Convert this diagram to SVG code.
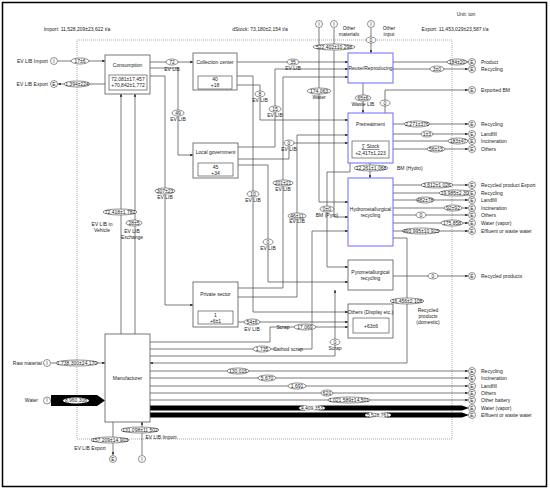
<svg xmlns="http://www.w3.org/2000/svg" width="550" height="491" viewBox="0 0 550 491">
<defs>
<marker id="ah" viewBox="0 0 6 6" refX="6" refY="3" markerWidth="4" markerHeight="4" orient="auto"><path d="M0,0L6,3L0,6z" fill="#222"/></marker>
<style>
text{font-family:"Liberation Sans",Arial,sans-serif;font-size:5px;fill:#222;text-anchor:middle}
.l{text-anchor:start}
.r{text-anchor:end}
.box{fill:#fff;stroke:#555;stroke-width:0.8}
.bb{fill:#fff;stroke:#6b6bff;stroke-width:1}
.in{fill:#fff;stroke:#555;stroke-width:0.7}
.ln{fill:none;stroke:#444;stroke-width:0.7}
.ar{marker-end:url(#ah)}
.lb{fill:#fff;stroke:#444;stroke-width:0.6}
.c{fill:#fff;stroke:#444;stroke-width:0.6}
</style>
</defs>
<rect x="2.5" y="2.5" width="544" height="484" fill="#fff" stroke="#000" stroke-width="1.5"/>
<rect x="77" y="40" width="375" height="399" fill="none" stroke="#888" stroke-width="0.7" stroke-dasharray="1,1"/>
<text x="77" y="31">Import: 11,528,209±23,622 t/a</text>
<text x="260" y="31">dStock: 73,180±2,154 t/a</text>
<text x="466" y="16">Unit: ton</text>
<text x="455" y="31">Export: 11,453,029±23,587 t/a</text>

<g id="connectors">
<path class="ln ar" d="M58,61H105"/>
<path class="ln ar" d="M105,84H58"/>
<path class="ln ar" d="M51,363H105"/>
<polygon points="51,395 97,395 105,400.5 97,406 51,406" fill="#000"/>
<path class="ln ar" d="M121,334V94"/>
<path class="ln ar" d="M135,334V94"/>
<path class="ln ar" d="M142,455V422"/>
<path class="ln ar" d="M113,422V455"/>
<path class="ln ar" d="M150,62H193"/>
<path class="ln ar" d="M150,68H178V155H193"/>
<path class="ln ar" d="M150,76H165V305H193"/>
<path class="ln ar" d="M237,62H348"/>
<path class="ln ar" d="M238,147H275V69H348"/>
<path class="ln ar" d="M238,288H283V77H348"/>
<path class="ln ar" d="M237,85H260V120H348"/>
<path class="ln ar" d="M238,159H289V143H348"/>
<path class="ln ar" d="M238,297H297V135H348"/>
<path class="ln ar" d="M237,76H253V312H348"/>
<path class="ln ar" d="M238,165H268V282H348"/>
<path class="ln ar" d="M238,322H348"/>
<path class="ln ar" d="M319,28V202H348"/>
<path class="ln ar" d="M334,28V217H348"/>
<path class="ln ar" d="M371,28V53"/>
<path class="ln ar" d="M363,83V113"/>
<path class="ln ar" d="M385,113V90H468"/>
<path class="ln ar" d="M393,62H468"/>
<path class="ln ar" d="M393,69H468"/>
<path class="ln ar" d="M393,124H468"/>
<path class="ln ar" d="M393,134H468"/>
<path class="ln ar" d="M393,141H468"/>
<path class="ln ar" d="M393,149H468"/>
<path class="ln ar" d="M370,163V178"/>
<path class="ln ar" d="M350,163V172H327V267H348"/>
<path class="ln ar" d="M393,185H468"/>
<path class="ln ar" d="M393,193H468"/>
<path class="ln ar" d="M393,200H468"/>
<path class="ln ar" d="M393,208H468"/>
<path class="ln ar" d="M393,215H468"/>
<path class="ln ar" d="M393,223H468"/>
<path class="ln ar" d="M393,231H468"/>
<path class="ln ar" d="M393,238H407V363H150"/>
<path class="ln ar" d="M393,276H468"/>
<path class="ln ar" d="M150,349H312V231H348"/>
<path class="ln ar" d="M150,342H270V327H348"/>
<path class="ln ar" d="M150,356H335V290"/>
<path class="ln ar" d="M150,371H468"/>
<path class="ln ar" d="M150,378H468"/>
<path class="ln ar" d="M150,386H468"/>
<path class="ln ar" d="M150,393H468"/>
<path class="ln ar" d="M150,400H468" stroke-width="1.4"/>
<polygon points="150,405.5 462,405.5 469,408 462,410.5 150,410.5" fill="#000"/>
<polygon points="150,412.5 462,412.5 469,415 462,417.5 150,417.5" fill="#000"/>
</g>

<g id="labels">
<ellipse class="lb" cx="80" cy="61" rx="9" ry="3"/><text x="80" y="62.8">17±6</text>
<ellipse class="lb" cx="77" cy="84" rx="13" ry="3"/><text x="77" y="85.8">1,394±224</text>
<ellipse class="lb" cx="77" cy="363" rx="21" ry="3"/><text x="77" y="364.8">1,738,300±24,170</text>
<ellipse fill="#fff" cx="76" cy="400.5" rx="13" ry="3"/><text x="76" y="402.3">8,960,308</text>
<ellipse class="lb" cx="140" cy="430" rx="19" ry="3"/><text x="140" y="431.8">131,098±11,502</text>
<ellipse class="lb" cx="110" cy="440" rx="19" ry="3"/><text x="110" y="441.8">157,209±14,903</text>
<text x="161" y="439">EV LIB Import</text>
<text x="90" y="450">EV LIB Export</text>
<ellipse class="lb" cx="120" cy="212" rx="17" ry="3"/><text x="120" y="213.8">72,418±1,782</text>
<text x="102" y="226">EV LIB in</text><text x="102" y="232">Vehicle</text>
<ellipse class="lb" cx="134" cy="223" rx="8" ry="3"/><text x="134" y="224.8">28±5</text>
<text x="132" y="233">EV LIB</text><text x="132" y="239">Exchange</text>
<ellipse class="lb" cx="172" cy="62" rx="6" ry="3"/><text x="172" y="63.8">72</text>
<text x="172" y="71">EV LIB</text>
<ellipse class="lb" cx="178" cy="113" rx="6" ry="3"/><text x="178" y="114.8">49</text>
<text x="178" y="121">EV LIB</text>
<ellipse class="lb" cx="165" cy="191" rx="10" ry="3"/><text x="165" y="192.8">307±23</text>
<text x="165" y="199">EV LIB</text>
<ellipse class="lb" cx="293" cy="62" rx="6" ry="3"/><text x="293" y="63.8">35</text>
<text x="293" y="70">EV LIB</text>
<ellipse class="lb" cx="260" cy="94" rx="5" ry="3"/><text x="260" y="95.8">8</text>
<text x="260" y="102">EV LIB</text>
<ellipse class="lb" cx="275" cy="109" rx="6" ry="3"/><text x="275" y="110.8">15</text>
<text x="275" y="117">EV LIB</text>
<ellipse class="lb" cx="289" cy="143" rx="5" ry="3"/><text x="289" y="144.8">0</text>
<text x="289" y="151">EV LIB</text>
<ellipse class="lb" cx="253" cy="194" rx="6" ry="3"/><text x="253" y="195.8">10</text>
<text x="253" y="202">EV LIB</text>
<ellipse class="lb" cx="268" cy="242" rx="5" ry="3"/><text x="268" y="243.8">0</text>
<text x="268" y="250">EV LIB</text>
<ellipse class="lb" cx="283" cy="183" rx="10" ry="3"/><text x="283" y="184.8">201±21</text>
<text x="283" y="191">EV LIB</text>
<ellipse class="lb" cx="297" cy="216" rx="9" ry="3"/><text x="297" y="217.8">46±11</text>
<text x="297" y="223">EV LIB</text>
<ellipse class="lb" cx="252" cy="322" rx="8" ry="3"/><text x="252" y="323.8">54±6</text>
<text x="252" y="331">EV LIB</text>
<ellipse class="lb" cx="327" cy="209" rx="7" ry="3"/><text x="327" y="210.8">0±0</text>
<text x="327" y="217">BM (Pyro)</text>
<ellipse class="lb" cx="305" cy="327" rx="11" ry="3"/><text x="305" y="328.8">17,069</text>
<text x="283" y="329">Scrap</text>
<ellipse class="lb" cx="262" cy="349" rx="9" ry="3"/><text x="262" y="350.8">1,735</text>
<rect x="277" y="346" width="23" height="6" fill="#fff"/><text x="288" y="351">Cathod scrap</text>
<ellipse class="lb" cx="335" cy="342" rx="5" ry="3"/><text x="335" y="343.8">0</text>
<text x="335" y="350">Scrap</text>
<ellipse class="lb" cx="319" cy="91" rx="12" ry="3"/><text x="319" y="92.8">174,063</text>
<text x="319" y="99">Water</text>
<ellipse class="lb" cx="334" cy="47" rx="21" ry="3"/><text x="334" y="48.8">522,402±10,298</text>
<text x="349" y="30">Other</text><text x="349" y="36">materials</text>
<ellipse class="lb" cx="371" cy="40" rx="5" ry="3"/><text x="371" y="41.8">0</text>
<text x="389" y="30">Other</text><text x="389" y="36">input</text>
<ellipse class="lb" cx="363" cy="98" rx="8" ry="3"/><text x="363" y="99.8">65±6</text>
<text x="363" y="106">Waste LIB</text>
<ellipse class="lb" cx="385" cy="103" rx="5" ry="3"/><text x="385" y="104.8">0</text>
<ellipse class="lb" cx="457" cy="62" rx="10" ry="3"/><text x="457" y="63.8">184±20</text>
<ellipse class="lb" cx="437" cy="69" rx="7" ry="3"/><text x="437" y="70.8">3±0</text>
<ellipse class="lb" cx="417" cy="124" rx="13" ry="3"/><text x="417" y="125.8">2,271±376</text>
<ellipse class="lb" cx="427" cy="134" rx="6" ry="3"/><text x="427" y="135.8">1±3</text>
<ellipse class="lb" cx="458" cy="141" rx="10" ry="3"/><text x="458" y="142.8">183±47</text>
<ellipse class="lb" cx="436" cy="149" rx="9" ry="3"/><text x="436" y="150.8">56±15</text>
<ellipse class="lb" cx="371" cy="168" rx="17" ry="3"/><text x="371" y="169.8">12,261±1,068</text>
<text class="l" x="397" y="170">BM (Hydro)</text>
<ellipse class="lb" cx="437" cy="185" rx="16" ry="3"/><text x="437" y="186.8">3,612±1,026</text>
<ellipse class="lb" cx="456" cy="193" rx="17" ry="3"/><text x="456" y="194.8">19,985±2,308</text>
<ellipse class="lb" cx="425" cy="200" rx="9" ry="3"/><text x="425" y="201.8">482±78</text>
<ellipse class="lb" cx="453" cy="208" rx="9" ry="3"/><text x="453" y="209.8">92±92</text>
<ellipse class="lb" cx="421" cy="215" rx="5" ry="3"/><text x="421" y="216.8">0</text>
<ellipse class="lb" cx="452" cy="223" rx="11" ry="3"/><text x="452" y="224.8">175,858</text>
<ellipse class="lb" cx="421" cy="231" rx="19" ry="3"/><text x="421" y="232.8">493,995±10,915</text>
<ellipse class="lb" cx="433" cy="276" rx="5" ry="3"/><text x="433" y="277.8">0</text>
<ellipse class="lb" cx="407" cy="301" rx="17" ry="3"/><text x="407" y="302.8">16,456±2,108</text>
<text x="428" y="312">Recycled</text><text x="428" y="318">products</text><text x="428" y="324">(domestic)</text>
<ellipse class="lb" cx="238" cy="371" rx="11" ry="3"/><text x="238" y="372.8">130,016</text>
<ellipse class="lb" cx="267" cy="378" rx="9" ry="3"/><text x="267" y="379.8">5,670</text>
<ellipse class="lb" cx="297" cy="386" rx="9" ry="3"/><text x="297" y="387.8">1,691</text>
<ellipse class="lb" cx="327" cy="393" rx="6" ry="3"/><text x="327" y="394.8">620</text>
<ellipse class="lb" cx="349" cy="400" rx="21" ry="3"/><text x="349" y="401.8">1,021,589±14,501</text>
<ellipse fill="#fff" cx="312" cy="408" rx="13" ry="3"/><text x="312" y="409.8">4,409,353</text>
<ellipse fill="#fff" cx="378" cy="415" rx="13" ry="3"/><text x="378" y="416.8">5,528,761</text>
</g>

<g id="io">
<text class="r" x="48" y="63">EV LIB Import</text>
<circle class="c" cx="54" cy="61" r="3.5"/><text x="54" y="62.8">I</text>
<text class="r" x="48" y="86">EV LIB Export</text>
<circle class="c" cx="54" cy="84" r="3.5"/><text x="54" y="85.8">E</text>
<text class="r" x="42" y="365">Raw material</text>
<circle class="c" cx="47" cy="363" r="3.5"/><text x="47" y="364.8">I</text>
<text class="r" x="38" y="402">Water</text>
<circle class="c" cx="47" cy="400.5" r="3.5"/><text x="47" y="402.3">I</text>
<circle class="c" cx="142" cy="459" r="3.5"/><text x="142" y="460.8">I</text>
<circle class="c" cx="113" cy="459" r="3.5"/><text x="113" y="460.8">E</text>
<circle class="c" cx="319" cy="24" r="3.5"/><text x="319" y="25.8">I</text>
<circle class="c" cx="334" cy="24" r="3.5"/><text x="334" y="25.8">I</text>
<circle class="c" cx="371" cy="24" r="3.5"/><text x="371" y="25.8">I</text>
<circle class="c" cx="472" cy="62" r="3.5"/><text x="472" y="63.8">E</text><text class="l" x="481" y="63.8">Product</text>
<circle class="c" cx="472" cy="69" r="3.5"/><text x="472" y="70.8">E</text><text class="l" x="481" y="70.8">Recycling</text>
<circle class="c" cx="472" cy="90" r="3.5"/><text x="472" y="91.8">E</text><text class="l" x="481" y="91.8">Exported BM</text>
<circle class="c" cx="472" cy="124" r="3.5"/><text x="472" y="125.8">E</text><text class="l" x="481" y="125.8">Recycling</text>
<circle class="c" cx="472" cy="134" r="3.5"/><text x="472" y="135.8">E</text><text class="l" x="481" y="135.8">Landfill</text>
<circle class="c" cx="472" cy="141" r="3.5"/><text x="472" y="142.8">E</text><text class="l" x="481" y="142.8">Incineration</text>
<circle class="c" cx="472" cy="149" r="3.5"/><text x="472" y="150.8">E</text><text class="l" x="481" y="150.8">Others</text>
<circle class="c" cx="472" cy="185" r="3.5"/><text x="472" y="186.8">E</text><text class="l" x="481" y="186.8">Recycled product Export</text>
<circle class="c" cx="472" cy="193" r="3.5"/><text x="472" y="194.8">E</text><text class="l" x="481" y="194.8">Recycling</text>
<circle class="c" cx="472" cy="200" r="3.5"/><text x="472" y="201.8">E</text><text class="l" x="481" y="201.8">Landfill</text>
<circle class="c" cx="472" cy="208" r="3.5"/><text x="472" y="209.8">E</text><text class="l" x="481" y="209.8">Incineration</text>
<circle class="c" cx="472" cy="215" r="3.5"/><text x="472" y="216.8">E</text><text class="l" x="481" y="216.8">Others</text>
<circle class="c" cx="472" cy="223" r="3.5"/><text x="472" y="224.8">E</text><text class="l" x="481" y="224.8">Water (vapor)</text>
<circle class="c" cx="472" cy="231" r="3.5"/><text x="472" y="232.8">E</text><text class="l" x="481" y="232.8">Effluent or waste water</text>
<circle class="c" cx="472" cy="276" r="3.5"/><text x="472" y="277.8">E</text><text class="l" x="481" y="277.8">Recycled products</text>
<circle class="c" cx="472" cy="371" r="3.5"/><text x="472" y="372.8">E</text><text class="l" x="481" y="372.8">Recycling</text>
<circle class="c" cx="472" cy="378" r="3.5"/><text x="472" y="379.8">E</text><text class="l" x="481" y="379.8">Incineration</text>
<circle class="c" cx="472" cy="386" r="3.5"/><text x="472" y="387.8">E</text><text class="l" x="481" y="387.8">Landfill</text>
<circle class="c" cx="472" cy="393" r="3.5"/><text x="472" y="394.8">E</text><text class="l" x="481" y="394.8">Others</text>
<circle class="c" cx="472" cy="400" r="3.5"/><text x="472" y="401.8">E</text><text class="l" x="481" y="401.8">Other battery</text>
<circle class="c" cx="472" cy="408" r="3.5"/><text x="472" y="409.8">E</text><text class="l" x="481" y="409.8">Water (vapor)</text>
<circle class="c" cx="472" cy="415" r="3.5"/><text x="472" y="416.8">E</text><text class="l" x="481" y="416.8">Effluent or waste water</text>
</g>

<g id="consumption">
<rect class="box" x="105" y="55" width="45" height="39"/>
<text x="127.5" y="67">Consumption</text>
<rect class="in" x="109" y="75" width="38" height="15"/>
<text x="128" y="81">72,081±17,457</text><text x="128" y="87">+70,842±1,772</text>
</g>
<g id="collection-center">
<rect class="box" x="193" y="53" width="44" height="37"/>
<text x="215" y="64">Collection center</text>
<rect class="in" x="198" y="76" width="34" height="13"/>
<text x="215" y="81">40</text><text x="215" y="87">+18</text>
</g>
<g id="local-government">
<rect class="box" x="193" y="143" width="45" height="35"/>
<text x="215.5" y="154">Local government</text>
<rect class="in" x="198" y="163" width="35" height="13"/>
<text x="215.5" y="168.5">45</text><text x="215.5" y="174.5">+34</text>
</g>
<g id="private-sector">
<rect class="box" x="193" y="282" width="45" height="45"/>
<text x="215.5" y="296">Private sector</text>
<rect class="in" x="198" y="311" width="35" height="13"/>
<text x="215.5" y="316.5">1</text><text x="215.5" y="322.5">+6±1</text>
</g>
<g id="reuse">
<rect class="bb" x="348" y="53" width="45" height="30"/>
<text x="370.5" y="70">Reuse/Reproducing</text>
</g>
<g id="pretreatment">
<rect class="bb" x="348" y="113" width="45" height="50"/>
<text x="370.5" y="126">Pretreatment</text>
<rect class="in" x="352" y="141" width="37" height="17"/>
<text x="370.5" y="148" text-decoration="underline">∑ Stock</text><text x="370.5" y="155">+2,417±1,223</text>
</g>
<g id="hydro">
<rect class="bb" x="348" y="178" width="45" height="68"/>
<text x="370.5" y="211">Hydrometallurgical</text><text x="370.5" y="217">recycling</text>
</g>
<g id="pyro">
<rect class="box" x="348" y="260" width="45" height="30"/>
<text x="370.5" y="274">Pyrometallurgical</text><text x="370.5" y="280">recycling</text>
</g>
<g id="others">
<rect class="box" x="348" y="304" width="45" height="34"/>
<text x="370.5" y="314">Others (Display etc.)</text>
<rect class="in" x="353" y="318" width="36" height="15"/>
<text x="371" y="327.5">+63±6</text>
</g>
<g id="manufacturer">
<rect class="box" x="105" y="334" width="45" height="88"/>
<text x="127.5" y="380">Manufacturer</text>
</g>
</svg>
